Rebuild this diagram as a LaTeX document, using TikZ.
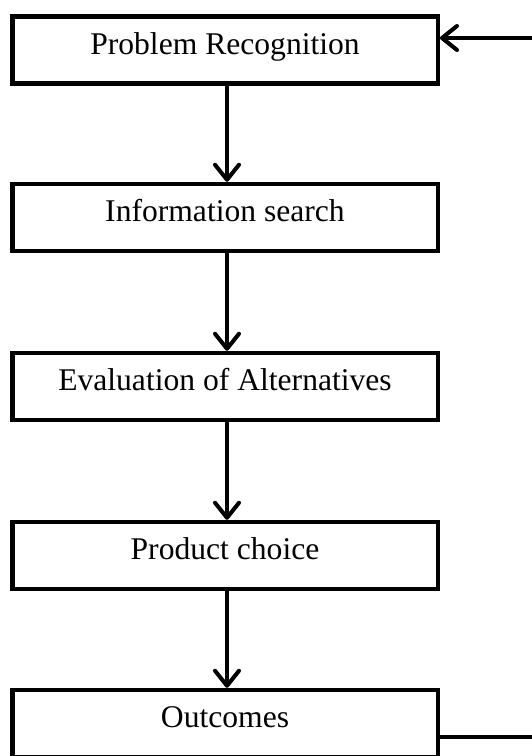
\documentclass[tikz,border=0pt]{standalone}
\usepackage{fontspec}
\setmainfont{Liberation Serif}
\usetikzlibrary{arrows.meta}
\begin{document}
\begin{tikzpicture}[x=1pt,y=-1pt,
  stage/.style={draw, line width=4.5pt, minimum width=425.5pt, minimum height=67pt,
    inner sep=0pt, font=\fontsize{31.6}{36}\selectfont,
    text height=22pt, text depth=14pt},
  flow/.style={line width=4pt,
    -{Straight Barb[length=15pt,width=24pt,line width=4pt,round]}}]
  \useasboundingbox (0,0) rectangle (532,756);
  \clip (0,0) rectangle (532,756);
  % decision stages
  \node[stage] (b1) at (225,50)    {Problem Recognition};
  \node[stage] (b2) at (225,217.5) {Information search};
  \node[stage] (b3) at (225,386.5) {Evaluation of Alternatives};
  \node[stage] (b4) at (225,555.5) {Product choice};
  \node[stage] (b5) at (225,723.5) {Outcomes};
  % forward flow
  \draw[flow] ([xshift=2pt]b1.south) -- ([xshift=2pt]b2.north);
  \draw[flow] ([xshift=2pt]b2.south) -- ([xshift=2pt]b3.north);
  \draw[flow] ([xshift=2pt]b3.south) -- ([xshift=2pt]b4.north);
  \draw[flow] ([xshift=2pt]b4.south) -- ([xshift=2pt]b5.north);
  % feedback loop back to the first stage
  \coordinate (fx) at (560,0);
  \coordinate (fa) at ([yshift=-13.5pt]b5.east);
  \coordinate (fb) at ([yshift=12pt]b1.east);
  \draw[flow] (fa) -- (fa -| fx) -- (fb -| fx) -- (fb);
\end{tikzpicture}
\end{document}
